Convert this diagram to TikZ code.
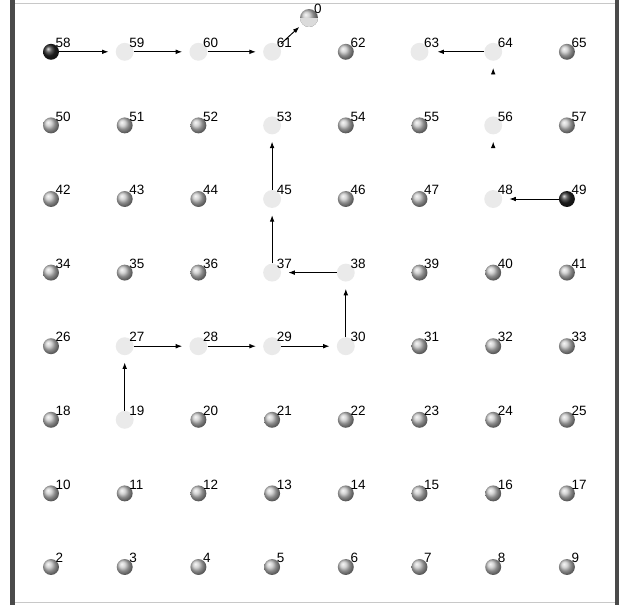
\documentclass[tikz,border=0pt]{standalone}
\usepackage{fontspec}
\setmainfont{Liberation Sans}
\usepackage{tikz}
\usetikzlibrary{arrows.meta}
\definecolor{framedark}{HTML}{4A4A4A}
\definecolor{frameline}{HTML}{C8C8C8}
\definecolor{seenfill}{HTML}{EAEAEA}
\tikzset{
  site/.style={circle,inner sep=0pt,minimum size=13.6pt},
  ball/.style={site,shading=ball,ball color=gray!45},
  seen/.style={site,minimum size=15.3pt,fill=seenfill},
  endball/.style={site,shading=ball,ball color=black!85},
  origin/.style={site,minimum size=15.3pt,shading=ball,ball color=gray!50,
    path picture={\fill[gray!28] (path picture bounding box.west) rectangle (path picture bounding box.south east);}},
  lbl/.style={anchor=south west,inner sep=0pt,font=\fontsize{11.5}{13}\selectfont},
  hop/.style={-{Latex[length=5.5pt,width=4pt]},line width=0.8pt,shorten >=6pt},
  ghost/.style={draw=white,-{Latex[length=5.5pt,width=4pt,color=black]}},
  k58/.style=endball, k49/.style=endball,
  k59/.style=seen, k60/.style=seen, k61/.style=seen, k63/.style=seen, k64/.style=seen,
  k56/.style=seen, k48/.style=seen, k53/.style=seen, k45/.style=seen, k37/.style=seen,
  k38/.style=seen, k30/.style=seen, k29/.style=seen, k28/.style=seen, k27/.style=seen,
  k19/.style=seen
}
\begin{document}
\begin{tikzpicture}[x=0.03cm,y=-0.03cm]
\useasboundingbox (0,0) rectangle (619,605);
% frame
\fill[framedark] (10,0) rectangle (15,605);
\fill[framedark] (615,0) rectangle (619,605);
\draw[frameline,line width=0.8pt] (15,3.5) -- (615,3.5);
\draw[frameline,line width=0.8pt] (15,602) -- (615,602);
% grid of sites
\foreach \r in {0,...,7}{
  \foreach \c in {0,...,7}{
    \pgfmathtruncatemacro{\id}{2+8*\r+\c}
    \pgfkeysifdefined{/tikz/k\id/.@cmd}{\edef\kind{k\id}}{\def\kind{ball}}
    \node[\kind] (n\id) at ({51+73.7*\c},{567-73.6*\r}) {};
    \node[lbl] (l\id) at ([shift={(4.5,-4)}]n\id.center) {\id};
  }
}
\node[origin] (n0) at (309,18) {};
\node[lbl] (l0) at ([shift={(5,-4)}]n0.center) {0};
% walk from 58
\draw[hop] (n58) -- (n59);
\draw[hop] (n59) -- (n60);
\draw[hop] (n60) -- (n61);
\draw[hop,shorten >=3.4pt,shorten <=2.5pt] (n61) -- (n0);
% walk from 49
\draw[hop] (n49) -- (n48);
\draw[hop,ghost] (n48) -- (n56);
\draw[hop,ghost] (n56) -- (n64);
\draw[hop,shorten >=7.5pt] (n64) -- (n63);
% walk from 19
\draw[hop] (n19) -- (n27);
\draw[hop] (n27) -- (n28);
\draw[hop] (n28) -- (n29);
\draw[hop] (n29) -- (n30);
\draw[hop] (n30) -- (n38);
\draw[hop] (n38) -- (n37);
\draw[hop] (n37) -- (n45);
\draw[hop] (n45) -- (n53);
\end{tikzpicture}
\end{document}
